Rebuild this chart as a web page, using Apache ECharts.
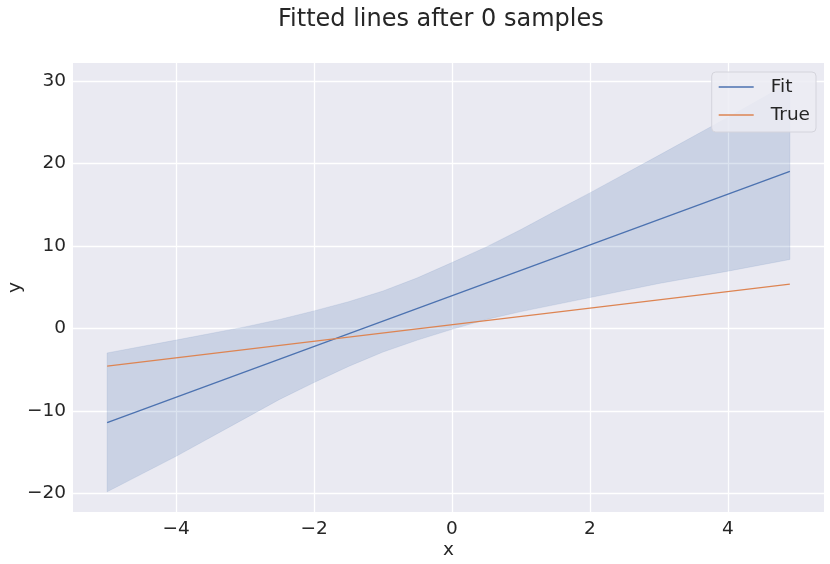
<!DOCTYPE html>
<html>
<head>
<meta charset="utf-8">
<script src="https://cdn.jsdelivr.net/npm/echarts@6/dist/echarts.min.js"></script>
<style>
  html, body { margin: 0; padding: 0; background: #fff; }
  #main { width: 830px; height: 564px; }
</style>
</head>
<body>
<div id="main"></div>
<script>
    // data
    var lineX = [-5, 4.9];
    var fitY = [-11.4, 19.05];
    var trueY = [-4.55, 5.38];

    var bandX = [-5, -4, -3, -2.5, -2, -1.5, -1, -0.5, 0, 0.5, 1, 1.5, 2, 3, 4, 4.9];
    var upperY = [-2.96, -1.4, 0.2, 1.1, 2.14, 3.25, 4.55, 6.15, 8.0, 9.9, 12.0, 14.25, 16.45, 21.0, 25.6, 29.85];
    var lowerY = [-19.8, -15.5, -10.9, -8.6, -6.55, -4.6, -2.85, -1.4, -0.1, 1.1, 2.05, 2.9, 3.75, 5.46, 6.95, 8.37];

    var xTicks = [-4, -2, 0, 2, 4];
    var yTicks = [-20, -10, 0, 10, 20, 30];

    var font = 'DejaVu Sans';
    var txt = '#262626';

    function pairs(xs, ys) {
        var out = [];
        for (var i = 0; i < xs.length; i++) {
            out.push([xs[i], ys[i]]);
        }
        return out;
    }

    var bandData = [];
    for (var i = 0; i < bandX.length; i++) {
        bandData.push([bandX[i], lowerY[i], upperY[i]]);
    }

    // the whole band is drawn once, as one polygon
    function renderBand(params, api) {
        if (params.dataIndex !== 0) return;
        var pts = [];
        for (var i = 0; i < bandX.length; i++) {
            pts.push(api.coord([bandX[i], upperY[i]]));
        }
        for (var j = bandX.length - 1; j >= 0; j--) {
            pts.push(api.coord([bandX[j], lowerY[j]]));
        }
        return {
            type: 'polygon',
            shape: { points: pts },
            style: { fill: 'rgba(76,114,176,0.2)', stroke: 'rgba(76,114,176,0.12)', lineWidth: 1 }
        };
    }

    var myChart = echarts.init(document.getElementById('main'));

    var option = {
        backgroundColor: '#ffffff',
        animation: false,
        title: {
            text: 'Fitted lines after 0 samples',
            left: 273,
            top: 3,
            textStyle: { fontFamily: font, fontSize: 24, fontWeight: 'normal', color: txt }
        },
        legend: {
            data: ['Fit', 'True'],
            orient: 'vertical',
            right: 14,
            top: 72,
            padding: [4, 6, 6, 7],
            itemGap: 6,
            itemWidth: 35,
            itemHeight: 1.5,
            icon: 'rect',
            backgroundColor: 'rgba(236,236,243,0.85)',
            borderColor: '#d4d4dc',
            borderWidth: 1,
            borderRadius: 4,
            textStyle: { fontFamily: font, fontSize: 18.5, color: txt, lineHeight: 22, padding: [0, 0, 0, 12] }
        },
        grid: {
            left: 73,
            right: 6,
            top: 63,
            bottom: 52,
            outerBoundsMode: 'none',
            containLabel: false,
            show: true,
            backgroundColor: '#eaeaf2',
            borderWidth: 0
        },
        xAxis: {
            type: 'value',
            min: -5.495,
            max: 5.395,
            name: 'x',
            nameLocation: 'middle',
            nameGap: 29,
            nameMoveOverlap: false,
            nameTextStyle: { fontFamily: font, fontSize: 18.5, color: txt },
            axisLine: { show: false },
            axisTick: { show: false, customValues: xTicks },
            axisLabel: {
                customValues: xTicks,
                fontFamily: font, fontSize: 18.5, color: txt, margin: 8,
                formatter: function (v) { return String(v).replace('-', '\u2212'); }
            },
            splitLine: { show: true, lineStyle: { color: '#ffffff', width: 1.3 } }
        },
        yAxis: {
            type: 'value',
            min: -22.25,
            max: 32.2,
            name: 'y',
            nameLocation: 'middle',
            nameGap: 48,
            nameMoveOverlap: false,
            nameTextStyle: { fontFamily: font, fontSize: 18.5, color: txt },
            axisLine: { show: false },
            axisTick: { show: false, customValues: yTicks },
            axisLabel: {
                customValues: yTicks,
                fontFamily: font, fontSize: 18.5, color: txt, margin: 7,
                formatter: function (v) { return String(v).replace('-', '\u2212'); }
            },
            splitLine: { show: true, lineStyle: { color: '#ffffff', width: 1.3 } }
        },
        series: [
            {
                name: 'band',
                type: 'custom',
                data: bandData,
                renderItem: renderBand,
                encode: { x: 0, y: [1, 2] },
                silent: true,
                z: 1
            },
            {
                name: 'Fit',
                type: 'line',
                data: pairs(lineX, fitY),
                showSymbol: false,
                symbol: 'none',
                color: '#4c72b0',
                lineStyle: { color: '#4c72b0', width: 1.3 },
                z: 3
            },
            {
                name: 'True',
                type: 'line',
                data: pairs(lineX, trueY),
                showSymbol: false,
                symbol: 'none',
                color: '#dd8452',
                lineStyle: { color: '#dd8452', width: 1.3 },
                z: 3
            }
        ]
    };

    myChart.setOption(option);
</script>
</body>
</html>
